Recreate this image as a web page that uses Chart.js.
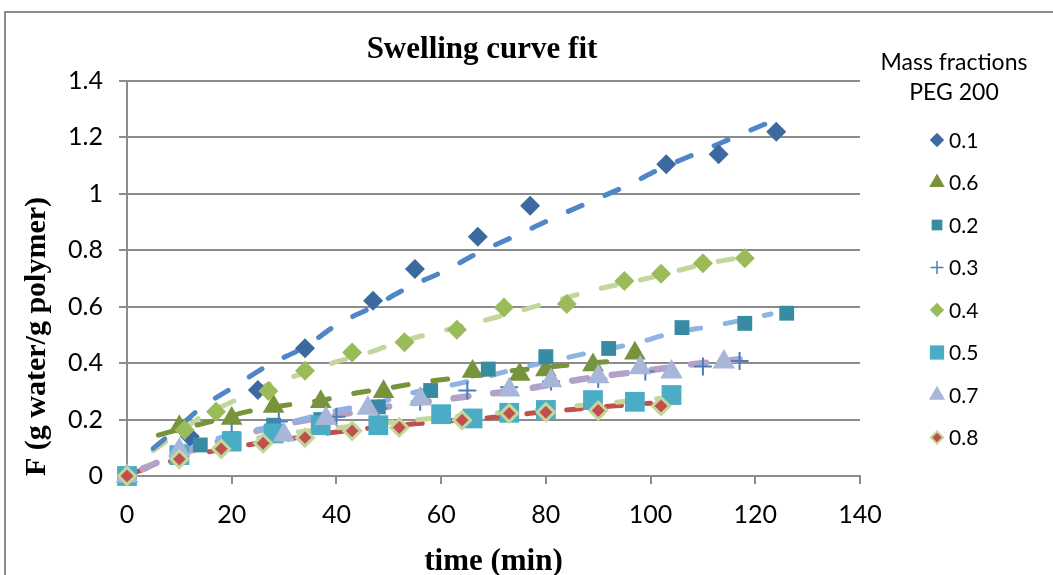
<!DOCTYPE html>
<html>
<head>
<meta charset="utf-8">
<title>Swelling curve fit</title>
<script src="https://cdn.jsdelivr.net/npm/chart.js@4.4.0/dist/chart.umd.min.js"></script>
<style>
    html, body { margin: 0; padding: 0; background: #ffffff; }
    #wrap { position: relative; width: 1053px; height: 575px; overflow: hidden; }
    #wrap canvas { position: absolute; left: 0; top: 0; }
    #frame {
        position: absolute; left: 4px; top: 11px; width: 1200px; height: 800px;
        border-left: 2px solid #8c8c8c; border-top: 2px solid #8c8c8c;
        pointer-events: none;
    }
</style>
</head>
<body>
<div id="wrap">
    <canvas id="chart" width="1053" height="575"></canvas>
    <div id="frame"></div>
</div>
<script>
// Swelling data (time in min, F in g water / g polymer)
const seriesLabels = ['0.1', '0.6', '0.2', '0.3', '0.4', '0.5', '0.7', '0.8'];

const time_01 = [0, 12, 25, 34, 47, 55, 67, 77, 103, 113, 124];
const F_01 = [0, 0.14, 0.305, 0.453, 0.621, 0.734, 0.848, 0.958, 1.105, 1.14, 1.22];

const time_06 = [0, 10, 20, 28, 37, 49, 66, 75, 80, 89, 97];
const F_06 = [0, 0.175, 0.204, 0.246, 0.263, 0.299, 0.37, 0.36, 0.376, 0.393, 0.435];

const time_02 = [0, 14, 28, 37, 48, 58, 69, 80, 92, 106, 118, 126];
const F_02 = [0, 0.11, 0.18, 0.2, 0.245, 0.303, 0.379, 0.423, 0.452, 0.526, 0.541, 0.577];

const time_03 = [0, 20, 29, 40, 48, 56, 65, 73, 81, 90, 99, 110, 117];
const F_03 = [0, 0.155, 0.193, 0.21, 0.24, 0.263, 0.303, 0.315, 0.335, 0.345, 0.37, 0.388, 0.408];

const time_04 = [0, 11, 17, 27, 34, 43, 53, 63, 72, 84, 95, 102, 110, 118];
const F_04 = [0, 0.163, 0.228, 0.301, 0.373, 0.438, 0.474, 0.518, 0.597, 0.61, 0.691, 0.717, 0.754, 0.772];

const time_05 = [0, 10, 20, 28, 37, 48, 60, 66, 73, 80, 89, 97, 104];
const F_05 = [0, 0.074, 0.122, 0.151, 0.18, 0.18, 0.219, 0.204, 0.224, 0.234, 0.269, 0.263, 0.287];

const time_07 = [0, 10, 30, 38, 46, 56, 73, 81, 90, 98, 104, 114];
const F_07 = [0, 0.092, 0.145, 0.204, 0.24, 0.273, 0.305, 0.338, 0.352, 0.384, 0.369, 0.404];

const time_08 = [0, 10, 18, 26, 34, 43, 52, 64, 73, 80, 90, 102];
const F_08 = [0, 0.06, 0.096, 0.116, 0.136, 0.16, 0.172, 0.198, 0.222, 0.226, 0.232, 0.248];

// Fitted curves (dashed)
const fitT_01 = [5, 10, 14, 20, 27, 34, 40, 47, 54, 61, 67, 75, 82, 89, 96, 102, 110, 117, 124];
const fitF_01 = [0.098, 0.175, 0.24, 0.311, 0.393, 0.458, 0.535, 0.6, 0.671, 0.73, 0.79, 0.858, 0.919, 0.976, 1.034, 1.09, 1.153, 1.209, 1.264];

const fitT_06 = [6, 10, 16, 23, 30, 37, 44, 50, 57, 64, 73, 80, 88, 94];
const fitF_06 = [0.145, 0.165, 0.193, 0.228, 0.25, 0.268, 0.295, 0.312, 0.334, 0.35, 0.372, 0.385, 0.4, 0.408];

const fitT_02 = [10, 20, 31, 40, 48, 55, 64, 74, 82, 89, 97, 104, 112, 123];
const fitF_02 = [0.1, 0.145, 0.19, 0.232, 0.26, 0.297, 0.33, 0.378, 0.411, 0.44, 0.47, 0.506, 0.532, 0.574];

const fitT_03 = [3, 10, 20, 31, 40, 52, 60, 67, 75, 83, 90, 100, 108, 117];
const fitF_03 = [0.025, 0.08, 0.135, 0.187, 0.215, 0.252, 0.27, 0.287, 0.305, 0.331, 0.352, 0.375, 0.396, 0.414];

const fitT_04 = [5, 10, 15, 20, 25, 30, 35, 40, 45, 50, 55, 60, 70, 80, 90, 100, 110, 118];
const fitF_04 = [0.09, 0.155, 0.22, 0.262, 0.31, 0.342, 0.372, 0.405, 0.43, 0.462, 0.49, 0.513, 0.56, 0.612, 0.663, 0.703, 0.75, 0.777];

const fitT_05 = [3, 10, 20, 30, 40, 50, 60, 70, 80, 90, 100, 103];
const fitF_05 = [0.03, 0.075, 0.118, 0.15, 0.17, 0.19, 0.207, 0.222, 0.238, 0.256, 0.272, 0.278];

const fitT_07 = [3, 10, 20, 31, 40, 52, 60, 67, 75, 83, 90, 100, 108, 114];
const fitF_07 = [0.025, 0.08, 0.135, 0.187, 0.215, 0.252, 0.27, 0.287, 0.305, 0.331, 0.352, 0.375, 0.396, 0.41];

const fitT_08 = [1, 5, 10, 15, 20, 25, 30, 35, 40, 45, 50, 55, 60, 65, 70, 75, 80, 85, 90, 95, 100];
const fitF_08 = [0.01, 0.035, 0.06, 0.083, 0.1, 0.116, 0.129, 0.143, 0.156, 0.167, 0.176, 0.185, 0.193, 0.2, 0.208, 0.218, 0.228, 0.236, 0.244, 0.251, 0.258];

const xTicks = [0, 20, 40, 60, 80, 100, 120, 140];
const yTicks = [0, 0.2, 0.4, 0.6, 0.8, 1, 1.2, 1.4];

const pts = (xs, ys) => xs.map((x, i) => ({ x: x, y: ys[i] }));

// Marker look per series (same order as seriesLabels)
const markers = [
    { t: time_01, f: F_01, style: 'rectRot', r: 10, fill: '#3D69A1', border: '#3D69A1', bw: 0 },
    { t: time_06, f: F_06, style: 'triangle', r: 12.5, fill: '#77933C', border: '#77933C', bw: 0 },
    { t: time_02, f: F_02, style: 'rect', r: 10.5, fill: '#378BA2', border: '#378BA2', bw: 0 },
    { t: time_03, f: F_03, style: 'cross', r: 9, fill: '#4A7EBB', border: '#4A7EBB', bw: 2 },
    { t: time_04, f: F_04, style: 'rectRot', r: 10, fill: '#9BBB59', border: '#9BBB59', bw: 0 },
    { t: time_05, f: F_05, style: 'rect', r: 14, fill: '#4BACC6', border: '#4BACC6', bw: 0 },
    { t: time_07, f: F_07, style: 'triangle', r: 13, fill: '#A7B6D9', border: '#A7B6D9', bw: 0 },
    { t: time_08, f: F_08, style: 'rectRot', r: 8.5, fill: '#C0504D', border: '#C3D69B', bw: 3 }
];

const fits = [
    { t: fitT_01, f: fitF_01, color: '#4F86C6', width: 5 },
    { t: fitT_06, f: fitF_06, color: '#77933C', width: 5 },
    { t: fitT_02, f: fitF_02, color: '#8DB4E2', width: 5 },
    { t: fitT_03, f: fitF_03, color: '#B3A2C7', width: 6.5 },
    { t: fitT_04, f: fitF_04, color: '#C3D69B', width: 5 },
    { t: fitT_05, f: fitF_05, color: '#C3D69B', width: 5 },
    { t: fitT_07, f: fitF_07, color: '#C3D69B', width: 5 },
    { t: fitT_08, f: fitF_08, color: '#C0504D', width: 5 }
];

const datasets = [];

fits.forEach((s, i) => {
    datasets.push({
        label: 'fit ' + seriesLabels[i],
        data: pts(s.t, s.f),
        showLine: true,
        borderColor: s.color,
        backgroundColor: s.color,
        borderWidth: s.width,
        borderDash: [15, 25],
        borderCapStyle: 'round',
        cubicInterpolationMode: 'monotone',
        pointRadius: 0,
        pointHoverRadius: 0,
        fill: false,
        clip: false,
        order: 20 + i
    });
});

markers.forEach((s, i) => {
    datasets.push({
        label: seriesLabels[i],
        data: pts(s.t, s.f),
        showLine: false,
        pointStyle: s.style,
        pointRadius: s.r,
        pointHoverRadius: s.r,
        pointBackgroundColor: s.fill,
        pointBorderColor: s.border,
        pointBorderWidth: s.bw,
        clip: false,
        order: 8 - i
    });
});

// Chart title and side legend drawn on the canvas
const sidePlugin = {
    id: 'sidePlugin',
    afterDraw(chart) {
        const ctx = chart.ctx;
        ctx.save();
        ctx.fillStyle = '#000000';
        ctx.textAlign = 'center';
        ctx.textBaseline = 'middle';
        ctx.font = 'bold 31px "Liberation Serif"';
        ctx.fillText('Swelling curve fit', 482, 50);

        ctx.font = '23px Lato';
        ctx.fillText('Mass fractions', 954, 63);
        ctx.fillText('PEG 200', 954, 93);

        ctx.font = '21px Lato';
        ctx.textAlign = 'left';
        markers.forEach((s, i) => {
            const y = 140 + i * 42.5;
            ctx.fillStyle = s.fill;
            ctx.strokeStyle = s.border;
            ctx.lineWidth = s.bw ? Math.max(1.5, s.bw * 0.7) : 0;
            Chart.helpers.drawPoint(ctx, {
                pointStyle: s.style,
                radius: s.r * 0.72,
                rotation: 0,
                borderWidth: s.bw
            }, 937, y);
            ctx.fillStyle = '#000000';
            ctx.fillText(seriesLabels[i], 949, y + 1);
        });
        ctx.restore();
    }
};

const gridColor = '#8c8c8c';

new Chart(document.getElementById('chart'), {
    type: 'scatter',
    data: { datasets: datasets },
    options: {
        responsive: false,
        animation: false,
        devicePixelRatio: 1,
        layout: { padding: { top: 81, right: 193, bottom: 0, left: 0 } },
        plugins: {
            legend: { display: false },
            title: { display: false },
            tooltip: { enabled: false }
        },
        scales: {
            x: {
                type: 'linear',
                min: 0,
                max: 140,
                afterBuildTicks: scale => { scale.ticks = xTicks.map(v => ({ value: v })); },
                afterFit: scale => { scale.height = 99; },
                ticks: {
                    color: '#000000',
                    font: { family: 'Lato', size: 25 },
                    padding: 16,
                    maxRotation: 0
                },
                grid: {
                    drawOnChartArea: false,
                    drawTicks: true,
                    tickLength: 8,
                    color: gridColor,
                    lineWidth: 2
                },
                border: { color: gridColor, width: 2 },
                title: {
                    display: true,
                    text: 'time (min)',
                    color: '#000000',
                    font: { family: 'Liberation Serif', size: 31, weight: 'bold', lineHeight: 1 },
                    padding: { top: 0, bottom: -2 }
                }
            },
            y: {
                type: 'linear',
                min: 0,
                max: 1.4,
                afterBuildTicks: scale => { scale.ticks = yTicks.map(v => ({ value: v })); },
                afterFit: scale => { scale.width = 127; },
                ticks: {
                    color: '#000000',
                    font: { family: 'Lato', size: 25 },
                    padding: 16,
                    callback: v => String(Math.round(v * 10) / 10)
                },
                grid: {
                    drawOnChartArea: true,
                    drawTicks: true,
                    tickLength: 8,
                    color: gridColor,
                    lineWidth: 2
                },
                border: { color: gridColor, width: 2 },
                title: {
                    display: true,
                    text: 'F (g water/g polymer)',
                    align: 'start',
                    color: '#000000',
                    font: { family: 'Liberation Serif', size: 30, weight: 'bold' },
                    padding: { top: 19, bottom: 0 }
                }
            }
        }
    },
    plugins: [sidePlugin]
});
</script>
</body>
</html>
